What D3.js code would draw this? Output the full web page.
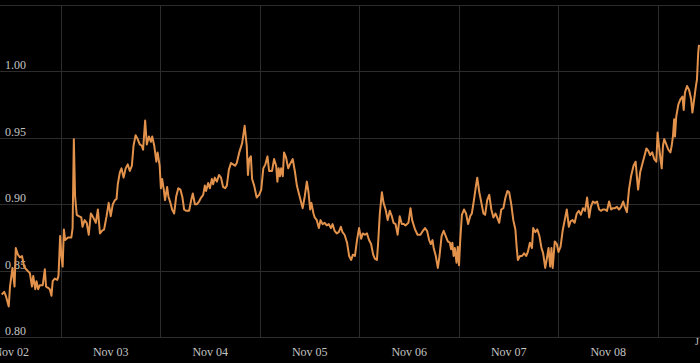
<!DOCTYPE html>
<html>
<head>
<meta charset="utf-8">
<script src="https://cdn.jsdelivr.net/npm/d3@7"></script>
<style>
  html, body { margin: 0; padding: 0; background: #000; }
  svg { display: block; }
  .grid line { stroke: #2c2c2c; stroke-width: 1; shape-rendering: crispEdges; }
  .lbl { fill: #c4c4c4; font-family: "Liberation Serif", "Times New Roman", serif; font-size: 12px; }
</style>
</head>
<body>
<div id="chart"></div>
<script>
// hours from Nov 03 00:00
var hours = [
  -14.3,-13.7,-13.3,-12.6,-12.3,-11.7,-11.2,-10.9,-10.4,-9.9,-9.4,-8.9,-8.4,-7.8,-7.5,-7.0,-6.7,-6.2,-5.9,-5.5,-5.1,-4.4,-3.9,-3.6,-3.1,-2.7,-2.3,-2.0,-1.5,-0.9,-0.6,-0.2,0.1,0.4,0.7,1.0,1.7,2.5,2.8,3.1,3.4,3.8,4.3,4.9,5.2,5.7,6.2,6.7,7.2,7.6,8.1,8.4,8.9,9.4,9.9,10.4,10.7,11.0,11.5,12.0,12.5,13.0,13.4,
  13.7,14.2,14.6,15.1,15.6,16.1,16.6,17.1,17.5,18.0,18.5,19.0,19.5,19.8,20.3,20.7,21.2,21.7,22.0,22.5,23.0,23.3,23.8,24.1,24.4,24.8,25.1,25.6,25.9,26.4,26.8,27.3,27.8,28.3,28.8,29.3,29.7,30.2,30.9,31.4,31.8,32.3,32.8,33.3,33.8,34.3,34.7,35.0,35.5,35.9,36.4,36.7,37.1,37.6,38.1,38.6,39.1,39.6,40.0,40.5,41.0,41.5,42.0,
  42.4,43.0,43.7,44.3,44.8,45.1,45.4,45.8,46.1,46.6,47.2,47.8,48.3,48.8,49.3,49.8,50.2,50.9,51.4,51.9,52.2,52.5,52.8,53.1,53.5,53.8,54.3,54.8,55.2,55.9,56.4,56.9,57.3,57.8,58.3,58.8,59.3,59.7,60.1,60.4,60.9,61.2,61.7,62.2,62.6,63.1,63.6,64.1,64.6,65.1,65.5,66.0,66.5,67.0,67.5,67.9,68.4,
  69.0,69.5,70.0,70.4,70.9,71.4,71.9,72.4,72.8,73.3,73.8,74.3,74.8,75.3,75.7,76.2,76.5,76.9,77.4,77.8,78.3,78.8,79.3,79.8,80.2,80.7,81.2,81.7,82.2,82.7,83.1,83.8,84.3,84.7,85.4,86.0,86.7,87.3,87.8,88.3,88.8,89.2,89.6,89.9,90.4,90.9,91.3,91.8,92.3,92.8,93.3,93.8,94.1,94.4,94.7,95.0,95.4,95.7,96.0,96.3,
  96.7,97.2,97.7,98.2,98.7,99.1,99.6,100.1,100.4,100.9,101.4,101.9,102.3,102.8,103.3,103.8,104.3,104.8,105.2,105.7,106.2,106.7,107.2,107.7,108.1,108.6,109.1,109.6,109.9,110.2,110.7,111.2,111.7,112.2,112.6,113.1,113.6,113.9,114.4,114.9,115.4,115.9,116.3,116.8,117.3,117.6,118.0,118.3,118.6,119.1,119.6,120.0,120.5,121.0,121.5,122.0,122.5,122.9,123.4,123.9,124.4,124.9,
  125.4,125.9,126.4,126.9,127.4,127.8,128.3,128.8,129.3,129.8,130.3,130.7,131.2,131.7,132.2,132.7,133.1,133.6,134.1,134.6,135.1,135.6,136.0,136.5,137.0,137.5,138.1,138.6,138.9,139.2,139.7,140.2,140.7,141.2,141.7,142.1,142.6,143.1,143.6,143.9,144.2,144.6,144.9,145.2,145.5,146.0,146.5,147.0,147.3,147.6,147.9,148.1,148.4,148.9,149.4,149.9,150.2,150.5,151.0,151.5,152.0,152.3,152.6,153.1,153.4,153.7,153.9
];
var values = [
  .832,.834,.831,.823,.838,.852,.838,.867,.862,.860,.861,.853,.851,.849,.848,.838,.846,.836,.842,.836,.839,.839,.851,.838,.837,.836,.831,.842,.844,.843,.846,.876,.861,.853,.881,.873,.875,.875,.882,.949,.906,.892,.891,.890,.883,.888,.886,.877,.893,.891,.888,.886,.896,.878,.880,.881,.886,.891,.901,.891,.900,.903,.904,
  .915,.924,.927,.920,.927,.930,.925,.929,.944,.952,.949,.945,.944,.941,.963,.945,.951,.947,.951,.944,.932,.939,.929,.912,.919,.911,.903,.913,.906,.901,.896,.893,.906,.912,.911,.905,.896,.895,.895,.903,.908,.900,.900,.902,.905,.907,.914,.910,.916,.912,.919,.915,.920,.917,.922,.920,.913,.912,.914,.926,.931,.930,.929,
  .931,.939,.946,.959,.944,.922,.934,.936,.919,.914,.905,.907,.911,.927,.930,.936,.925,.925,.934,.929,.917,.927,.921,.927,.921,.939,.935,.927,.930,.934,.925,.914,.909,.903,.897,.906,.917,.909,.896,.901,.893,.890,.888,.882,.888,.885,.886,.884,.885,.882,.885,.880,.878,.879,.883,.879,.877,
  .871,.861,.858,.862,.861,.873,.882,.874,.878,.877,.878,.873,.870,.862,.859,.858,.871,.893,.909,.901,.896,.888,.895,.891,.886,.885,.877,.891,.885,.885,.884,.886,.897,.888,.881,.877,.877,.880,.882,.880,.873,.870,.873,.867,.861,.852,.861,.876,.880,.876,.872,.871,.866,.871,.861,.867,.856,.868,.854,.873,
  .892,.896,.893,.885,.891,.893,.903,.914,.920,.909,.901,.893,.892,.903,.907,.896,.890,.893,.890,.886,.896,.897,.905,.910,.909,.900,.888,.881,.868,.858,.861,.861,.863,.861,.864,.871,.867,.882,.879,.881,.876,.867,.863,.852,.861,.867,.853,.867,.852,.872,.870,.864,.868,.880,.888,.896,.883,.887,.888,.886,.893,.895,
  .892,.897,.895,.905,.890,.898,.902,.901,.902,.896,.895,.896,.896,.895,.902,.896,.897,.897,.898,.896,.898,.902,.898,.894,.911,.921,.929,.932,.921,.911,.924,.930,.936,.942,.940,.937,.939,.934,.932,.954,.945,.934,.927,.944,.949,.945,.941,.939,.944,.951,.964,.951,.966,.975,.979,.981,.971,.984,.989,.986,.979,.969,.976,.988,.994,1.014,1.020
];

var dayLabels = ["Nov 02", "Nov 03", "Nov 04", "Nov 05", "Nov 06", "Nov 07", "Nov 08"];
var dayOffsets = [-1, 0, 1, 2, 3, 4, 5];      // days from Nov 03, labels sit at noon
var gridDays = [0, 1, 2, 3, 4, 5, 6];         // midnight boundaries
var yTicks = [0.80, 0.85, 0.90, 0.95, 1.00];
var yGrid = [0.80, 0.85, 0.90, 0.95, 1.00, 1.05];

var w = 700, h = 363;
var base = new Date(Date.UTC(2023, 10, 3));
function atHour(hr) { return new Date(base.getTime() + hr * 3600e3); }

var x = d3.scaleUtc()
  .domain([atHour(-14.71), atHour(154.13)])
  .range([0, w]);
var y = d3.scaleLinear()
  .domain([0.80, 1.05])
  .range([337, 5]);

var svg = d3.select("#chart").append("svg")
  .attr("width", w)
  .attr("height", h);

svg.append("rect").attr("width", w).attr("height", h).attr("fill", "#000");

var grid = svg.append("g").attr("class", "grid");
grid.selectAll(".hg")
  .data(yGrid)
  .enter().append("line")
    .attr("x1", 0).attr("x2", w)
    .attr("y1", function(d){ return Math.round(y(d)) + 0.5 })
    .attr("y2", function(d){ return Math.round(y(d)) + 0.5 });
grid.selectAll(".vg")
  .data(gridDays)
  .enter().append("line")
    .attr("x1", function(d){ return Math.round(x(atHour(d * 24))) + 0.5 })
    .attr("x2", function(d){ return Math.round(x(atHour(d * 24))) + 0.5 })
    .attr("y1", y(1.05)).attr("y2", y(0.80));

svg.selectAll(".ylab")
  .data(yTicks)
  .enter().append("text")
    .attr("class", "lbl")
    .attr("x", 5)
    .attr("y", function(d){ return y(d) - 2 })
    .text(function(d){ return d3.format(".2f")(d) });

svg.selectAll(".xlab")
  .data(dayOffsets)
  .enter().append("text")
    .attr("class", "lbl")
    .attr("text-anchor", "middle")
    .attr("x", function(d){ return x(atHour(d * 24 + 12)) })
    .attr("y", 356)
    .text(function(d, i){ return dayLabels[i] });

// clipped label at right edge
svg.append("text")
  .attr("class", "lbl")
  .attr("x", 695)
  .attr("y", 345)
  .style("font-size", "10px")
  .text("J");

var pts = hours.map(function(hr, i){ return [atHour(hr), values[i]] });

var line = d3.line()
  .x(function(d){ return x(d[0]) })
  .y(function(d){ return y(d[1]) });

svg.append("path")
  .datum(pts)
  .attr("fill", "none")
  .attr("stroke", "#e3924c")
  .attr("stroke-width", 2)
  .attr("stroke-linejoin", "round")
  .attr("d", line);
</script>
</body>
</html>
